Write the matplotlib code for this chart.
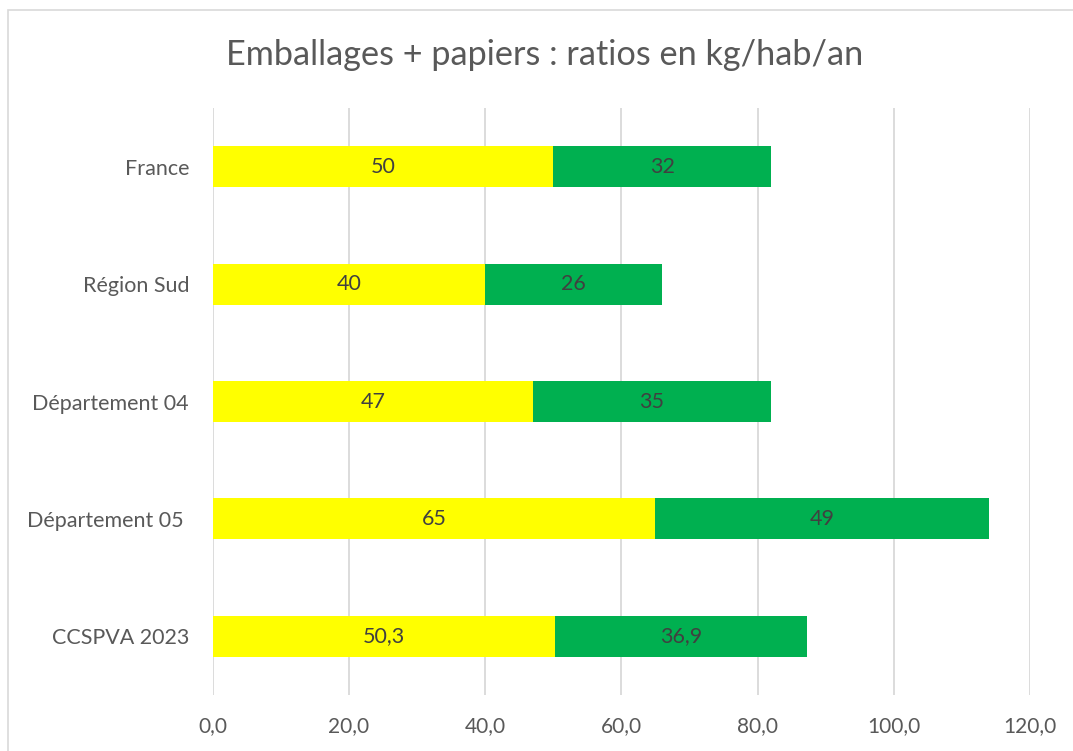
import matplotlib

matplotlib.use("Agg")
import matplotlib.pyplot as plt
from matplotlib.patches import Rectangle
from matplotlib.ticker import FuncFormatter

categories = ["France", "Région Sud", "Département 04", "Département 05 ", "CCSPVA 2023"]
emballages = [50, 40, 47, 65, 50.3]
papiers = [32, 26, 35, 49, 36.9]
labels_emb = ["50", "40", "47", "65", "50,3"]
labels_pap = ["32", "26", "35", "49", "36,9"]
xticks = [0, 20, 40, 60, 80, 100, 120]

plt.rcParams["font.family"] = ["Lato", "DejaVu Sans"]

W, H = 1073, 751
fig = plt.figure(figsize=(W / 100, H / 100), dpi=100)
ax = fig.add_axes([212.7 / W, 1 - 695 / H, (1030 - 212.7) / W, (695 - 108) / H])

# chart frame (runs off the right and bottom edges like the source)
fig.patches.append(Rectangle((8 / W, -0.2), 1.2, 1.2 - 10 / H,
                             transform=fig.transFigure, fill=False,
                             ec="#D9D9D9", lw=1.2))

y = list(range(len(categories)))
h = 0.349
b1 = ax.barh(y, emballages, height=h, color="#FFFF00")
b2 = ax.barh(y, papiers, left=emballages, height=h, color="#00B050")
ax.bar_label(b1, labels=labels_emb, label_type="center", color="#404040", fontsize=15.5)
ax.bar_label(b2, labels=labels_pap, label_type="center", color="#404040", fontsize=15.5)

ax.set_xlim(0, 120)
ax.set_ylim(len(categories) - 0.5, -0.5)
ax.set_xticks(xticks)
ax.xaxis.set_major_formatter(FuncFormatter(lambda v, p: f"{v:.1f}".replace(".", ",")))
ax.set_yticks(y)
ax.set_yticklabels(categories)
ax.tick_params(axis="both", length=0, colors="#595959")
ax.tick_params(axis="y", pad=17, labelsize=15.5)
ax.tick_params(axis="x", pad=15, labelsize=15)
ax.grid(axis="x", color="#D9D9D9", lw=1.3)
ax.set_axisbelow(True)
for s in ax.spines.values():
    s.set_visible(False)

title = fig.text(545 / W, 1 - 65 / H, "Emballages + papiers : ratios en kg/hab/an",
                 ha="center", va="baseline", fontsize=21, color="#595959")
# size the title to the width it takes in the source (~636 px)
r = fig.canvas.get_renderer()
wpx = title.get_window_extent(r).width
title.set_fontsize(21 * 636 / wpx)

fig.savefig("out.png", dpi=100)
